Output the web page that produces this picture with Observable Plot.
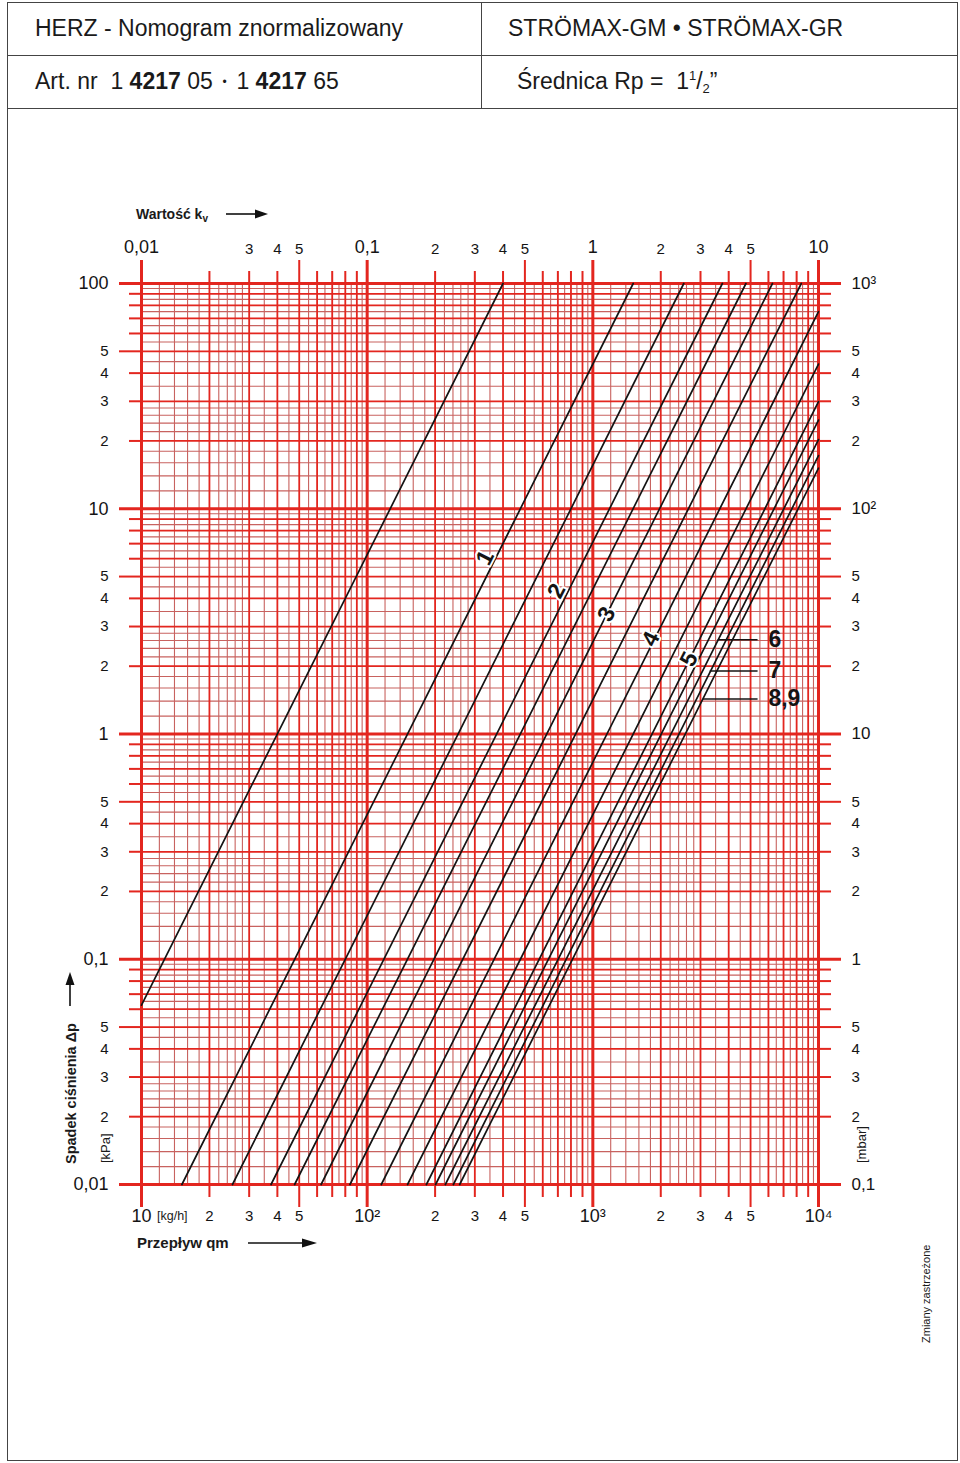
<!DOCTYPE html>
<html><head><meta charset="utf-8">
<script src="https://cdn.jsdelivr.net/npm/d3@7"></script>
<script src="https://cdn.jsdelivr.net/npm/@observablehq/plot@0.6"></script>
<style>
body{margin:0;background:#fff;font-family:"Liberation Sans",Arial,sans-serif;color:#1a1a1a}
#page{position:relative;width:960px;height:1463px;overflow:hidden;background:#fff}
.a{position:absolute;white-space:nowrap}
.hline{position:absolute;height:0;border-top:1.5px solid #444}
.vline{position:absolute;width:0;border-left:1.5px solid #444}
.h{font-size:23px;line-height:28px}
.rot{transform-origin:0 0;transform:rotate(-90deg)}
#chart{position:absolute;left:0;top:110px}
</style></head><body><div id="page">
<div class="a" style="left:7px;top:2px;width:949px;height:1457px;border:1.5px solid #444"></div>
<div class="hline" style="left:7px;top:55px;width:951px"></div>
<div class="hline" style="left:7px;top:108px;width:951px"></div>
<div class="vline" style="left:481px;top:2px;height:106px"></div>
<div class="a h" style="left:35px;top:14px">HERZ - Nomogram znormalizowany</div>
<div class="a h" style="left:508px;top:14px">STRÖMAX-GM • STRÖMAX-GR</div>
<div class="a h" style="left:35px;top:67px">Art. nr&nbsp; 1 <b>4217</b> 05 <span style="font-size:12px;vertical-align:3px">&nbsp;•&nbsp;</span> 1 <b>4217</b> 65</div>
<div class="a h" style="left:517px;top:67px;height:28px">Średnica Rp =&nbsp; 1<span style="font-size:13px;position:relative;top:-9px">1</span>/<span style="font-size:13px;position:relative;top:4px">2</span>”</div>
<div id="chart"></div>
<div class="a" style="left:136px;top:205px;font-size:14px;font-weight:bold;line-height:18px">Wartość k<span style="font-size:10px;vertical-align:-3px">v</span></div>
<svg class="a" style="left:224px;top:207px" width="46" height="14"><line x1="2" y1="7" x2="34" y2="7" stroke="#111" stroke-width="1.6"/><path d="M44 7 L31 2.5 L31 11.5 Z" fill="#111"/></svg>
<div class="a" style="left:137px;top:1234px;font-size:15px;font-weight:bold;line-height:18px">Przepływ qm</div>
<svg class="a" style="left:246px;top:1236px" width="74" height="14"><line x1="2" y1="7" x2="58" y2="7" stroke="#111" stroke-width="1.6"/><path d="M71 7 L56 2.5 L56 11.5 Z" fill="#111"/></svg>
<div class="a" style="left:157px;top:1208px;font-size:12.5px;line-height:16px">[kg/h]</div>
<div class="a rot" style="left:62px;top:1164px;font-size:14.5px;font-weight:bold;line-height:18px">Spadek ciśnienia Δp</div>
<svg class="a" style="left:63px;top:972px" width="14" height="36"><line x1="7" y1="34" x2="7" y2="10" stroke="#111" stroke-width="1.6"/><path d="M7 0 L2.5 13 L11.5 13 Z" fill="#111"/></svg>
<div class="a rot" style="left:98px;top:1163px;font-size:13px;line-height:16px">[kPa]</div>
<div class="a rot" style="left:854px;top:1163px;font-size:13px;line-height:16px">[mbar]</div>
<div class="a rot" style="left:919px;top:1343px;font-size:11px;line-height:14px">Zmiany zastrzeżone</div>
</div>
<script>
// ---- data ----
// kv value of every black line (leftmost unlabeled, then 1, 1.5, 2, ... 8/9)
const lineKv = [0.40, 1.51, 2.53, 3.75, 4.77, 6.25, 8.39, 11.55, 15.1, 18.3, 20.1, 22.2, 24.1, 25.7];
// labels written on the lines
const onLineText = ["1", "2", "3", "4", "5"];
const onLineQm = [333, 690, 1150, 1806, 2668];
const onLineDp = [6.07, 4.32, 3.40, 2.64, 2.15];
// labels with leader lines
const leaderText = ["6", "7", "8,9"];
const leaderDp = [2.62, 1.905, 1.43];
const leaderFromQm = [3574, 3294, 3076];
const leaderToQm = [5370, 5370, 5370];
const leaderLabelQm = [6000, 6000, 6000];

// ---- axes / ticks ----
const qmDecades = [10, 100, 1000, 10000];
const qmDecadeLabels = ["10", "10²", "10³", "10⁴"];
const qmFives = [50, 500, 5000];
const qmShort = [20, 30, 40, 60, 70, 80, 90, 200, 300, 400, 600, 700, 800, 900, 2000, 3000, 4000, 6000, 7000, 8000, 9000];

const kvDecades = [0.01, 0.1, 1, 10];
const kvDecadeLabels = ["0,01", "0,1", "1", "10"];
const kvFives = [0.05, 0.5, 5];
const kvShort = [0.02, 0.03, 0.04, 0.06, 0.07, 0.08, 0.09, 0.2, 0.3, 0.4, 0.6, 0.7, 0.8, 0.9, 2, 3, 4, 6, 7, 8, 9];
const kvShortLabelled = [0.03, 0.04, 0.2, 0.3, 0.4, 2, 3, 4];

const dpDecades = [0.01, 0.1, 1, 10, 100];
const dpLabelsKPa = ["0,01", "0,1", "1", "10", "100"];
const dpLabelsMbar = ["0,1", "1", "10", "10²", "10³"];
const dpFives = [0.05, 0.5, 5, 50];
const dpShort = [0.02, 0.03, 0.04, 0.06, 0.07, 0.08, 0.09, 0.2, 0.3, 0.4, 0.6, 0.7, 0.8, 0.9, 2, 3, 4, 6, 7, 8, 9, 20, 30, 40, 60, 70, 80, 90];

// log-paper sub-divisions (thin lines) per decade
const subMantissas = [1.2, 1.4, 1.6, 1.8, 2.2, 2.4, 2.6, 2.8, 3.5, 4.5, 5.5, 6.5, 7.5, 8.5, 9.5];

const RED = "#e3261f", THIN = "#c8625f", INK = "#141414";
const FONT = "Liberation Sans, Arial, sans-serif";

const mant = v => Math.round(v / 10 ** Math.floor(Math.log10(v) + 1e-9));
const subX = qmDecades.slice(0, 3).flatMap(d => subMantissas.map(m => m * d));
const subY = dpDecades.slice(0, 4).flatMap(d => subMantissas.map(m => m * d));

// line segments, clipped to the paper (qm in kg/h, dp in kPa): qm = 1000 kv sqrt(dp/100)
const segs = lineKv.flatMap((kv, id) => {
  let q0 = 10 * kv, d0 = 0.01;
  if (q0 < 10) { q0 = 10; d0 = 100 * (10 / (1000 * kv)) ** 2; }
  let q1 = 1000 * kv, d1 = 100;
  if (q1 > 1e4) { q1 = 1e4; d1 = 100 * (10 / kv) ** 2; }
  return [{id, qm: q0, dp: d0}, {id, qm: q1, dp: d1}];
});

const mapOf = (keys, vals) => new Map(keys.map((k, i) => [k, vals[i]]));
const qmDecMap = mapOf(qmDecades, qmDecadeLabels);
const kvTopDec = kvDecades.map(k => k * 1000);
const kvTopFives = kvFives.map(k => k * 1000);
const kvTopShort = kvShort.map(k => k * 1000);
const kvDecMap = mapOf(kvTopDec, kvDecadeLabels);
const kvLab = new Set(kvShortLabelled.map(k => k * 1000));
const kpaMap = mapOf(dpDecades, dpLabelsKPa);
const mbarMap = mapOf(dpDecades, dpLabelsMbar);

const ax = (fn, data, o) => fn(data, {label: null, fill: INK, stroke: RED, tickSpacing: 1, ...o});

const chart = Plot.plot({
  width: 960, height: 1240,
  marginTop: 173, marginBottom: 166, marginLeft: 141, marginRight: 142,
  x: {type: "log", domain: [10, 1e4], axis: null},
  y: {type: "log", domain: [0.01, 100], axis: null},
  style: {fontFamily: FONT, background: "transparent", overflow: "visible", color: INK},
  marks: [
    Plot.ruleX(subX, {stroke: THIN, strokeWidth: 1.1}),
    Plot.ruleY(subY, {stroke: THIN, strokeWidth: 1.1}),
    Plot.ruleX([...qmShort, ...qmFives], {stroke: RED, strokeWidth: 1.8}),
    Plot.ruleY([...dpShort, ...dpFives], {stroke: RED, strokeWidth: 1.8}),
    Plot.ruleX(qmDecades, {stroke: RED, strokeWidth: 3}),
    Plot.ruleY(dpDecades, {stroke: RED, strokeWidth: 3}),
    // bottom axis: flow qm
    ax(Plot.axisX, qmDecades, {anchor: "bottom", tickSize: 23, tickPadding: 2, strokeWidth: 3, fontSize: 18, tickFormat: d => qmDecMap.get(d)}),
    ax(Plot.axisX, qmFives, {anchor: "bottom", tickSize: 23, tickPadding: 3, strokeWidth: 2, fontSize: 15, tickFormat: d => "5"}),
    ax(Plot.axisX, qmShort, {anchor: "bottom", tickSize: 13, tickPadding: 13, strokeWidth: 2, fontSize: 15, tickFormat: d => mant(d) <= 4 ? String(mant(d)) : ""}),
    // top axis: kv value (qm = 1000 kv at dp = 100 kPa)
    ax(Plot.axisX, kvTopDec, {anchor: "top", tickSize: 24, tickPadding: 7, strokeWidth: 3, fontSize: 18, tickFormat: d => kvDecMap.get(d)}),
    ax(Plot.axisX, kvTopFives, {anchor: "top", tickSize: 24, tickPadding: 6, strokeWidth: 2, fontSize: 15, tickFormat: d => "5"}),
    ax(Plot.axisX, kvTopShort, {anchor: "top", tickSize: 13, tickPadding: 17, strokeWidth: 2, fontSize: 15, tickFormat: d => kvLab.has(d) ? String(mant(d)) : ""}),
    // left axis kPa
    ax(Plot.axisY, dpDecades, {anchor: "left", tickSize: 22, tickPadding: 11, strokeWidth: 3, fontSize: 18, tickFormat: d => kpaMap.get(d)}),
    ax(Plot.axisY, dpFives, {anchor: "left", tickSize: 22, tickPadding: 11, strokeWidth: 2, fontSize: 15, tickFormat: d => "5"}),
    ax(Plot.axisY, dpShort, {anchor: "left", tickSize: 12, tickPadding: 21, strokeWidth: 2, fontSize: 15, tickFormat: d => mant(d) <= 4 ? String(mant(d)) : ""}),
    // right axis mbar
    ax(Plot.axisY, dpDecades, {anchor: "right", tickSize: 22, tickPadding: 11, strokeWidth: 3, fontSize: 17, tickFormat: d => mbarMap.get(d)}),
    ax(Plot.axisY, dpFives, {anchor: "right", tickSize: 22, tickPadding: 11, strokeWidth: 2, fontSize: 15, tickFormat: d => "5"}),
    ax(Plot.axisY, dpShort, {anchor: "right", tickSize: 12, tickPadding: 21, strokeWidth: 2, fontSize: 15, tickFormat: d => mant(d) <= 4 ? String(mant(d)) : ""}),
    // black kv lines
    Plot.line(segs, {x: "qm", y: "dp", z: "id", stroke: INK, strokeWidth: 1.7}),
    // labels on lines
    Plot.text(onLineText, {x: (d, i) => onLineQm[i], y: (d, i) => onLineDp[i], text: d => d, rotate: -63, fontSize: 23, fontWeight: "bold", fill: INK, stroke: "white", strokeWidth: 4}),
    // leader lines
    Plot.link(leaderText, {x1: (d, i) => leaderFromQm[i], x2: (d, i) => leaderToQm[i], y1: (d, i) => leaderDp[i], y2: (d, i) => leaderDp[i], stroke: INK, strokeWidth: 1.4}),
    Plot.text(leaderText, {x: (d, i) => leaderLabelQm[i], y: (d, i) => leaderDp[i], text: d => d, textAnchor: "start", fontSize: 23, fontWeight: "bold", fill: INK})
  ]
});
document.getElementById("chart").appendChild(chart);
</script>
</body></html>
